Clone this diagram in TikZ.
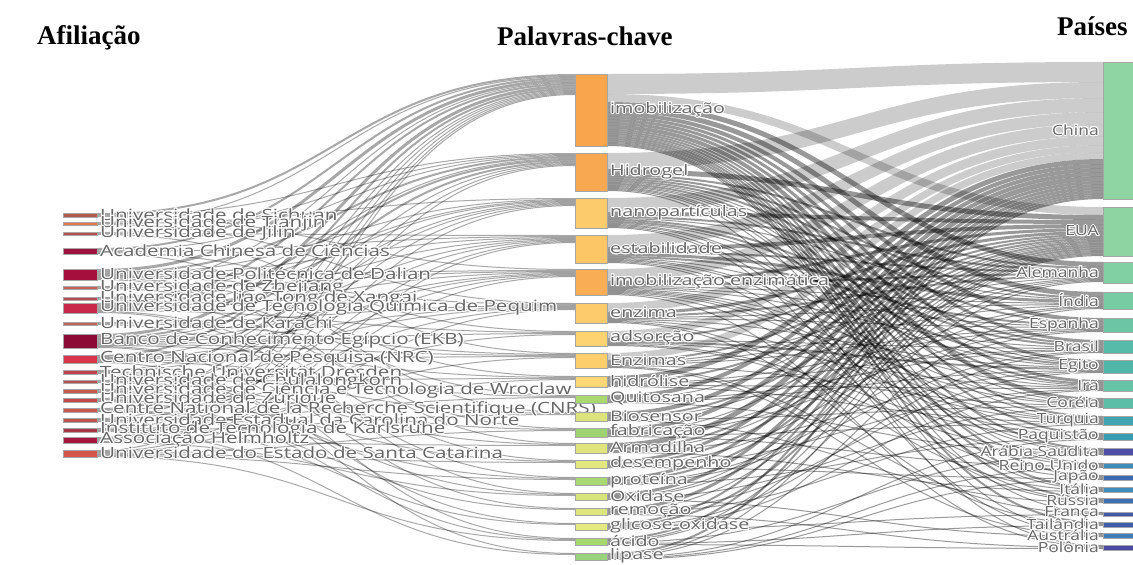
\documentclass[tikz,border=0pt]{standalone}
\usepackage{fontspec}
\usepackage{contour}
\contourlength{1pt}
\setmainfont{Liberation Serif}
\newfontfamily\lblfontL[FakeStretch=1.33]{Open Sans}
\newfontfamily\lblfontM[FakeStretch=1.36]{Open Sans}
\newfontfamily\lblfontR[FakeStretch=1.25]{Open Sans}
\usetikzlibrary{calc}
\pgfdeclarelayer{background}
\pgfsetlayers{background,main}

% affiliation colours
\definecolor{af1}{HTML}{B35A4F}\definecolor{af2}{HTML}{E27A4E}\definecolor{af3}{HTML}{B9504E}
\definecolor{af4}{HTML}{9E1240}\definecolor{af5}{HTML}{A50F3E}\definecolor{af6}{HTML}{C0625A}
\definecolor{af7}{HTML}{B64A55}\definecolor{af8}{HTML}{C9284A}\definecolor{af9}{HTML}{C0645A}
\definecolor{af10}{HTML}{8C0A36}\definecolor{af11}{HTML}{D8344A}\definecolor{af12}{HTML}{C0414E}
\definecolor{af13}{HTML}{B85050}\definecolor{af14}{HTML}{C25A4E}\definecolor{af15}{HTML}{C04A48}
\definecolor{af16}{HTML}{C8584E}\definecolor{af17}{HTML}{B9534B}\definecolor{af18}{HTML}{A53646}
\definecolor{af19}{HTML}{A2163F}\definecolor{af20}{HTML}{D2544A}
% keyword colours
\definecolor{kw1}{HTML}{F8A54E}\definecolor{kw2}{HTML}{F8A850}\definecolor{kw3}{HTML}{FCCB6C}
\definecolor{kw4}{HTML}{FCC667}\definecolor{kw5}{HTML}{F9AE55}\definecolor{kw6}{HTML}{FDCB6B}
\definecolor{kw7}{HTML}{FDD371}\definecolor{kw8}{HTML}{FDCF6C}\definecolor{kw9}{HTML}{FDD676}
\definecolor{kw10}{HTML}{A9D86E}\definecolor{kw11}{HTML}{DCE37C}\definecolor{kw12}{HTML}{9FD271}
\definecolor{kw13}{HTML}{DFE57C}\definecolor{kw14}{HTML}{E2E781}\definecolor{kw15}{HTML}{A8D872}
\definecolor{kw16}{HTML}{D6E57B}\definecolor{kw17}{HTML}{DCE87E}\definecolor{kw18}{HTML}{E3EA82}
\definecolor{kw19}{HTML}{A6D76F}\definecolor{kw20}{HTML}{98D27D}
% country colours
\definecolor{ct1}{HTML}{8FD5A3}\definecolor{ct2}{HTML}{8ED4A3}\definecolor{ct3}{HTML}{80D0A4}
\definecolor{ct4}{HTML}{78CCA4}\definecolor{ct5}{HTML}{6CC5A5}\definecolor{ct6}{HTML}{56BBA8}
\definecolor{ct7}{HTML}{4FB6A9}\definecolor{ct8}{HTML}{66C3A6}\definecolor{ct9}{HTML}{5DBEA7}
\definecolor{ct10}{HTML}{3FA4AF}\definecolor{ct11}{HTML}{3A9DB0}\definecolor{ct12}{HTML}{4D4EA6}
\definecolor{ct13}{HTML}{3F8DBA}\definecolor{ct14}{HTML}{3A6BB0}\definecolor{ct15}{HTML}{3F8CBA}
\definecolor{ct16}{HTML}{3B70B2}\definecolor{ct17}{HTML}{3E58A8}\definecolor{ct18}{HTML}{3D5EAB}
\definecolor{ct19}{HTML}{3F7DB6}\definecolor{ct20}{HTML}{4A4AA2}

\begin{document}
\begin{tikzpicture}[x=1pt, y=-1pt,
  bar/.style={rectangle, draw=black!35, line width=0.5pt, inner sep=0pt, outer sep=0pt, anchor=north west},
  lbl/.style={text=black!60, inner sep=0pt},
  head/.style={font=\bfseries\fontsize{27}{30}\selectfont, anchor=base west, inner sep=0pt},
  lflow/.style={draw=black, opacity=0.34},
  rflow/.style={draw=black}]

\useasboundingbox (0,0) rectangle (1133,565);

  % column titles
  \node[head] (hA) at (37,44) {Afiliação};
  \node[head] (hP) at (497,45) {Palavras-chave};
  \node[head] (hC) at (1057,35) {Países};

  % Afiliacao (left)
  \foreach \n/\y/\h/\col/\txt in {
    a1/213/4/af1/{Universidade de Sichuan},
    a2/222/3/af2/{Universidade de Tianjin},
    a3/232/3/af3/{Universidade de Jilin},
    a4/248/6/af4/{Academia Chinesa de Ciências},
    a5/269/11/af5/{Universidade Politécnica de Dalian},
    a6/286/3/af6/{Universidade de Zhejiang},
    a7/297/3/af7/{Universidade Jiao Tong de Xangai},
    a8/303/10/af8/{Universidade de Tecnologia Química de Pequim},
    a9/322/3/af9/{Universidade de Karachi},
    a10/334/14/af10/{Banco de Conhecimento Egípcio (EKB)},
    a11/355/8/af11/{Centro Nacional de Pesquisa (NRC)},
    a12/370/4/af12/{Technische Universität Dresden},
    a13/380/3/af13/{Universidade de Chulalongkorn},
    a14/389/4/af14/{Universidade de Ciência e Tecnologia de Wroclaw},
    a15/398/4/af15/{Universidade de Zurique},
    a16/408/4/af16/{Centre National de la Recherche Scientifique (CNRS)},
    a17/418/4/af17/{Universidade Estadual da Carolina do Norte},
    a18/428/4/af18/{Instituto de Tecnologia de Karlsruhe},
    a19/437/6/af19/{Associação Helmholtz},
    a20/450/7/af20/{Universidade do Estado de Santa Catarina}}
  {
    \node[bar, fill=\col, minimum width=34, minimum height=\h] (\n) at (63,\y) {};
    \node[lbl, font=\lblfontL\fontsize{15.5}{15.5}\selectfont, anchor=west] (l\n) at ([xshift=3]\n.east) {\contour{white}{\txt}};
  }

  % Palavras-chave (middle)
  \foreach \n/\y/\h/\col/\txt in {
    k1/74/72/kw1/{imobilização},
    k2/153/38/kw2/{Hidrogel},
    k3/198/30/kw3/{nanopartículas},
    k4/235/28/kw4/{estabilidade},
    k5/269/26/kw5/{imobilização enzimática},
    k6/303/20/kw6/{enzima},
    k7/331/15/kw7/{adsorção},
    k8/353/15/kw8/{Enzimas},
    k9/376/11/kw9/{hidrólise},
    k10/395/8/kw10/{Quitosana},
    k11/412/9/kw11/{Biosensor},
    k12/428/9/kw12/{fabricação},
    k13/443/10/kw13/{Armadilha},
    k14/460/8/kw14/{desempenho},
    k15/477/8/kw15/{proteína},
    k16/493/7/kw16/{Oxidase},
    k17/508/7/kw17/{remoção},
    k18/523/7/kw18/{glicose-oxidase},
    k19/538/7/kw19/{ácido},
    k20/553/7/kw20/{lipase}}
  {
    \node[bar, fill=\col, minimum width=32, minimum height=\h] (\n) at (575,\y) {};
    \node[lbl, font=\lblfontM\fontsize{14.5}{14.5}\selectfont, anchor=west] (l\n) at ([xshift=3]\n.east) {\contour{white}{\txt}};
  }

  % Paises (right)
  \foreach \n/\y/\h/\col/\txt in {
    c1/62/137/ct1/{China},
    c2/207/49/ct2/{EUA},
    c3/262/21/ct3/{Alemanha},
    c4/292/17/ct4/{Índia},
    c5/318/14/ct5/{Espanha},
    c6/340/13/ct6/{Brasil},
    c7/360/13/ct7/{Egito},
    c8/380/11/ct8/{Irã},
    c9/398/10/ct9/{Coréia},
    c10/416/9/ct10/{Turquia},
    c11/433/7/ct11/{Paquistão},
    c12/448/7/ct12/{Arábia Saudita},
    c13/463/5/ct13/{Reino Unido},
    c14/475/5/ct14/{Japão},
    c15/487/5/ct15/{Itália},
    c16/498/5/ct16/{Rússia},
    c17/512/4/ct17/{França},
    c18/522/5/ct18/{Tailândia},
    c19/533/5/ct19/{Austrália},
    c20/545/5/ct20/{Polônia}}
  {
    \node[bar, fill=\col, minimum width=32, minimum height=\h] (\n) at (1103,\y) {};
    \node[lbl, font=\lblfontR\fontsize{14}{14}\selectfont, anchor=east] (l\n) at ([xshift=-4]\n.west) {\contour{white}{\txt}};
  }

\begin{pgfonlayer}{background}
  % afiliacao -> palavra-chave
  \foreach \s/\o/\t/\p/\w in {
    a1/0/k1/0/2, a1/2/k2/0/1, a1/3/k5/0/1,
    a2/0/k1/2/1, a2/1/k3/0/1, a2/2/k6/0/1,
    a3/0/k2/1/1, a3/1/k4/0/1, a3/2/k8/0/1,
    a4/0/k1/3/2, a4/2/k2/2/1, a4/3/k4/1/1, a4/4/k7/0/1, a4/5/k11/0/1,
    a5/0/k1/5/3, a5/3/k2/3/2, a5/5/k3/1/1, a5/6/k4/2/1, a5/7/k5/1/1, a5/8/k6/1/1, a5/9/k9/0/1, a5/10/k13/0/1,
    a6/0/k1/8/1, a6/1/k5/2/1, a6/2/k10/0/1,
    a7/0/k2/5/1, a7/1/k3/2/1, a7/2/k12/0/1,
    a8/0/k1/9/2, a8/2/k2/6/2, a8/4/k3/3/1, a8/5/k4/3/1, a8/6/k5/3/1, a8/7/k7/1/1, a8/8/k14/0/1, a8/9/k16/0/1,
    a9/0/k6/2/1, a9/1/k8/1/1, a9/2/k15/0/1,
    a10/0/k1/11/3, a10/3/k2/8/2, a10/5/k3/4/1, a10/6/k4/4/1, a10/7/k5/4/1, a10/8/k6/3/1, a10/9/k7/2/1,
    a10/10/k8/2/1, a10/11/k9/1/1, a10/12/k17/0/1, a10/13/k19/0/1,
    a11/0/k1/14/2, a11/2/k3/5/1, a11/3/k5/5/1, a11/4/k6/4/1, a11/5/k8/3/1, a11/6/k10/1/1, a11/7/k20/0/1,
    a12/0/k2/10/1, a12/1/k4/5/1, a12/2/k11/1/1, a12/3/k18/0/1,
    a13/0/k1/16/1, a13/1/k9/2/1, a13/2/k13/1/1,
    a14/0/k3/6/1, a14/1/k5/6/1, a14/2/k12/1/1, a14/3/k16/1/1,
    a15/0/k1/17/1, a15/1/k6/5/1, a15/2/k14/1/1, a15/3/k19/1/1,
    a16/0/k2/11/1, a16/1/k7/3/1, a16/2/k15/1/1, a16/3/k17/1/1,
    a17/0/k1/18/1, a17/1/k4/6/1, a17/2/k10/2/1, a17/3/k18/1/1,
    a18/0/k3/7/1, a18/1/k8/4/1, a18/2/k11/2/1, a18/3/k20/1/1,
    a19/0/k1/19/1, a19/1/k2/12/1, a19/2/k5/7/1, a19/3/k9/3/1, a19/4/k13/2/1, a19/5/k16/2/1,
    a20/0/k1/20/1, a20/1/k4/7/1, a20/2/k6/6/1, a20/3/k12/2/1, a20/4/k14/2/1, a20/5/k15/2/1, a20/6/k19/2/1}
    \draw[lflow, line width=\w] ($(\s.north east)+(0,\o+\w/2)$) .. controls +(240,0) and +(-240,0) .. ($(\t.north west)+(0,\p+\w/2)$);

  % palavra-chave -> pais (thin links darker)
  \foreach[evaluate=\w as \op using {\w<6 ? 0.4 : 0.2}] \s/\o/\t/\p/\w in {
    k1/0/c1/0/20, k1/20/c2/0/8, k1/28/c3/0/5, k1/33/c4/0/5, k1/38/c5/0/4, k1/42/c6/0/3, k1/45/c7/0/3,
    k1/48/c8/0/3, k1/51/c9/0/4, k1/55/c10/0/2, k1/57/c11/0/2, k1/59/c12/0/2, k1/61/c13/0/1, k1/62/c14/0/2,
    k1/64/c15/0/2, k1/66/c16/0/2, k1/68/c17/0/1, k1/69/c18/0/2, k1/71/c19/0/1,
    k2/0/c1/20/16, k2/16/c2/8/5, k2/21/c3/5/2, k2/23/c4/5/2, k2/25/c5/4/2, k2/27/c6/3/2, k2/29/c7/3/1,
    k2/30/c8/3/2, k2/32/c9/4/1, k2/33/c10/2/1, k2/34/c12/2/1, k2/35/c13/1/1, k2/36/c15/2/1, k2/37/c20/0/1,
    k3/0/c1/36/14, k3/14/c2/13/4, k3/18/c3/7/2, k3/20/c4/7/1, k3/21/c6/5/2, k3/23/c7/4/2, k3/25/c8/5/1,
    k3/26/c11/2/1, k3/27/c12/3/1, k3/28/c16/2/1, k3/29/c19/1/1,
    k4/0/c1/50/12, k4/12/c2/17/4, k4/16/c3/9/2, k4/18/c4/8/3, k4/21/c5/6/2, k4/23/c7/6/1, k4/24/c9/5/1,
    k4/25/c10/3/1, k4/26/c13/2/1, k4/27/c16/3/1,
    k5/0/c1/62/12, k5/12/c2/21/3, k5/15/c3/11/2, k5/17/c4/11/1, k5/18/c5/8/1, k5/19/c6/7/1, k5/20/c8/6/1,
    k5/21/c9/6/1, k5/22/c10/4/1, k5/23/c11/3/1, k5/24/c14/2/1, k5/25/c20/1/1,
    k6/0/c1/74/9, k6/9/c2/24/3, k6/12/c3/13/2, k6/14/c4/12/1, k6/15/c5/9/1, k6/16/c7/7/1, k6/17/c10/5/1,
    k6/18/c15/3/1, k6/19/c18/2/1,
    k7/0/c1/83/7, k7/7/c2/27/2, k7/9/c6/8/1, k7/10/c7/8/2, k7/12/c8/7/1, k7/13/c11/4/1, k7/14/c12/4/1,
    k8/0/c1/90/7, k8/7/c2/29/2, k8/9/c3/15/1, k8/10/c4/13/1, k8/11/c5/10/1, k8/12/c9/7/1, k8/13/c17/1/1, k8/14/c19/2/1,
    k9/0/c1/97/5, k9/5/c2/31/2, k9/7/c5/11/1, k9/8/c6/9/1, k9/9/c8/8/1, k9/10/c10/6/1,
    k10/0/c1/102/4, k10/4/c2/33/1, k10/5/c6/10/1, k10/6/c7/10/1, k10/7/c12/5/1,
    k11/0/c1/106/4, k11/4/c2/34/2, k11/6/c3/16/1, k11/7/c9/8/1, k11/8/c16/4/1,
    k12/0/c1/110/4, k12/4/c2/36/1, k12/5/c4/14/1, k12/6/c5/12/1, k12/7/c10/7/1, k12/8/c13/3/1,
    k13/0/c1/114/5, k13/5/c2/37/2, k13/7/c3/17/1, k13/8/c7/11/1, k13/9/c15/4/1,
    k14/0/c1/119/3, k14/3/c2/39/2, k14/5/c4/15/1, k14/6/c8/9/1, k14/7/c14/3/1,
    k15/0/c1/122/3, k15/3/c2/41/2, k15/5/c5/13/1, k15/6/c6/11/1, k15/7/c11/5/1,
    k16/0/c1/125/3, k16/3/c2/43/1, k16/4/c3/18/1, k16/5/c9/9/1, k16/6/c19/3/1,
    k17/0/c1/128/3, k17/3/c2/44/1, k17/4/c7/12/1, k17/5/c10/8/1, k17/6/c20/2/1,
    k18/0/c1/131/2, k18/2/c2/45/2, k18/4/c6/12/1, k18/5/c8/10/1, k18/6/c17/2/1,
    k19/0/c1/133/2, k19/2/c2/47/1, k19/3/c3/19/1, k19/4/c12/6/1, k19/5/c18/3/1, k19/6/c20/3/1,
    k20/0/c1/135/2, k20/2/c2/48/1, k20/3/c4/16/1, k20/4/c11/6/1, k20/5/c13/4/1, k20/6/c14/4/1}
    \draw[rflow, opacity=\op, line width=\w] ($(\s.north east)+(0,\o+\w/2)$) .. controls +(240,0) and +(-240,0) .. ($(\t.north west)+(0,\p+\w/2)$);
\end{pgfonlayer}

\end{tikzpicture}
\end{document}
